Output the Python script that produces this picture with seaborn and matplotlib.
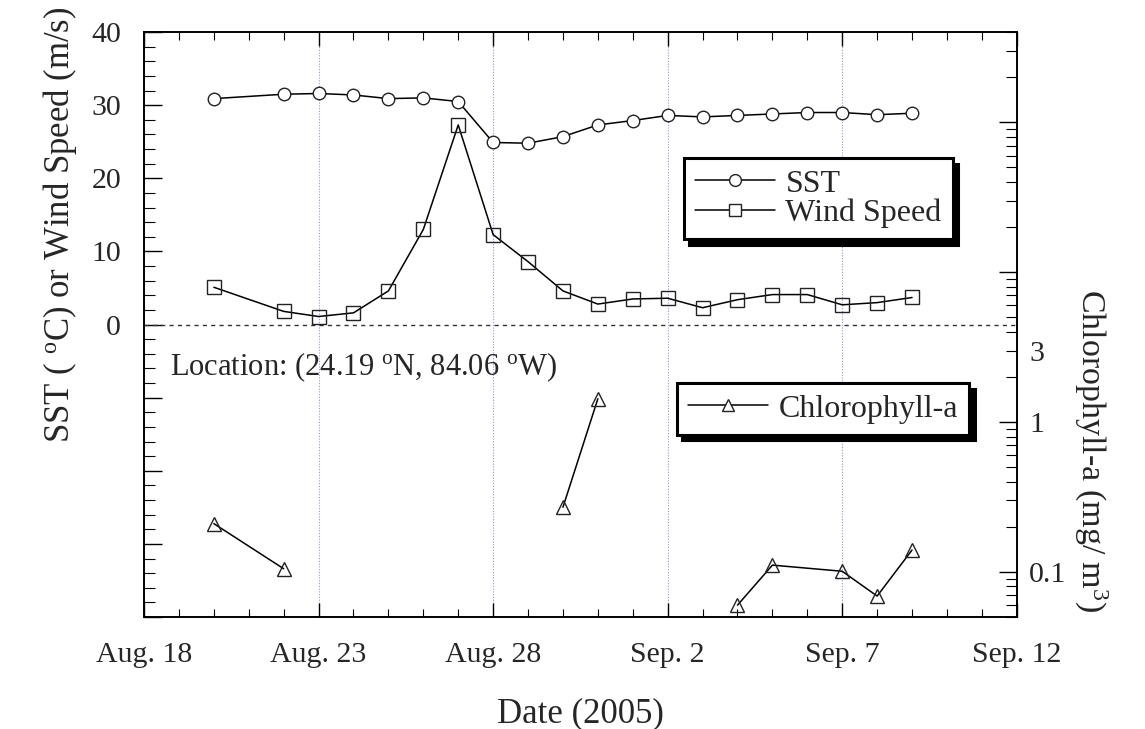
import matplotlib
matplotlib.use("Agg")
import pandas as pd
import seaborn as sns
import matplotlib.pyplot as plt
import matplotlib.dates as mdates
import matplotlib.ticker as mticker
from matplotlib.lines import Line2D

# values
met_days = ["2005-08-20", "2005-08-22", "2005-08-23", "2005-08-24", "2005-08-25",
            "2005-08-26", "2005-08-27", "2005-08-28", "2005-08-29", "2005-08-30",
            "2005-08-31", "2005-09-01", "2005-09-02", "2005-09-03", "2005-09-04",
            "2005-09-05", "2005-09-06", "2005-09-07", "2005-09-08", "2005-09-09"]
sst = [30.9, 31.5, 31.6, 31.4, 30.9, 31.0, 30.5, 24.9, 24.8, 25.7,
       27.3, 27.9, 28.6, 28.4, 28.6, 28.8, 29.0, 29.0, 28.7, 28.9]
wind = [5.1, 1.8, 1.1, 1.6, 4.6, 13.0, 27.3, 12.3, 8.6, 4.6,
        2.8, 3.5, 3.6, 2.3, 3.4, 4.1, 4.1, 2.7, 3.0, 3.7]

chl_days = ["2005-08-20", "2005-08-22", "2005-08-30", "2005-08-31", "2005-09-04",
            "2005-09-05", "2005-09-07", "2005-09-08", "2005-09-09"]
chl = [0.21, 0.105, 0.27, 1.43, 0.060, 0.111, 0.101, 0.069, 0.14]
chl_run = [0, 0, 1, 1, 2, 2, 2, 2, 2]  # gaps in the record split the line

tick_days = ["2005-08-18", "2005-08-23", "2005-08-28", "2005-09-02", "2005-09-07", "2005-09-12"]
location = r"Location: (24.19 $^{\rm o}$N, 84.06 $^{\rm o}$W)"

met = pd.DataFrame({"date": pd.to_datetime(met_days), "sst": sst, "wind": wind})
chl_df = pd.DataFrame({"date": pd.to_datetime(chl_days), "chl": chl, "run": chl_run})
ticks = pd.to_datetime(tick_days)

sns.set_theme(style="ticks")
plt.rcParams["font.family"] = ["Liberation Serif", "DejaVu Serif"]
plt.rcParams["mathtext.fontset"] = "custom"
plt.rcParams["mathtext.rm"] = "Liberation Serif"
plt.rcParams["mathtext.it"] = "Liberation Serif:italic"
plt.rcParams["axes.linewidth"] = 1.2

fig, ax = plt.subplots(figsize=(11.45, 7.29), dpi=100)
fig.subplots_adjust(left=0.1258, right=0.888, top=0.956, bottom=0.1536)

line_kw = dict(color="black", lw=1.1, markeredgecolor="#222222",
               markeredgewidth=1.0, legend=False)
sns.lineplot(data=met, x="date", y="sst", ax=ax, marker="o", markersize=9,
             markerfacecolor="white", **line_kw)
sns.lineplot(data=met, x="date", y="wind", ax=ax, marker="s", markersize=9.5,
             markerfacecolor="none", **line_kw)
ax.axhline(0, color="#333333", lw=1.0, ls=(0, (3, 3)), zorder=1)

ax2 = ax.twinx()
ax2.set_yscale("log")
sns.lineplot(data=chl_df, x="date", y="chl", units="run", estimator=None, ax=ax2,
             marker="^", markersize=10, markerfacecolor="none", **line_kw)

# axes ranges and ticks
ax.set_xlim(ticks[0], ticks[-1])
ax.set_ylim(-40, 40)
ax2.set_ylim(0.05, 400)

ax.xaxis.set_major_locator(mticker.FixedLocator(mdates.date2num(ticks)))
ax.xaxis.set_minor_locator(mdates.DayLocator())
ax.xaxis.set_major_formatter(mticker.FuncFormatter(
    lambda v, p: "{:%b}. {}".format(mdates.num2date(v), mdates.num2date(v).day)))
ax.yaxis.set_major_locator(mticker.MultipleLocator(10))
ax.yaxis.set_minor_locator(mticker.MultipleLocator(2))
ax.yaxis.set_major_formatter(mticker.FuncFormatter(lambda v, p: f"{v:.0f}" if v >= 0 else ""))

decades = [0.01, 0.1, 1, 10, 100]
ax2.yaxis.set_major_locator(mticker.FixedLocator(decades[1:]))
ax2.yaxis.set_minor_locator(mticker.FixedLocator([m * d for d in decades for m in range(2, 10)]))
ax2.yaxis.set_major_formatter(mticker.FuncFormatter(lambda v, p: {0.1: "0.1", 1: "1"}.get(round(v, 3), "")))
ax2.yaxis.set_minor_formatter(mticker.FuncFormatter(lambda v, p: "3" if abs(v - 3) < 1e-6 else ""))

ax.tick_params(axis="x", which="both", direction="in", top=True, bottom=True,
               labelsize=21.5, pad=18, color="black")
ax.tick_params(axis="x", which="major", length=10, width=1.0)
ax.tick_params(axis="x", which="minor", length=6, width=0.8)
ax.tick_params(axis="y", which="both", direction="in", left=True, right=False,
               labelsize=21.5, pad=16.5, color="black")
ax.tick_params(axis="y", which="major", length=13, width=1.0)
ax.tick_params(axis="y", which="minor", length=8, width=0.8)
ax2.tick_params(axis="y", which="both", direction="in", right=True, left=False,
                labelsize=21.5, pad=9, color="black")
ax2.tick_params(axis="y", which="major", length=13, width=1.0)
ax2.tick_params(axis="y", which="minor", length=8, width=0.8)

ax.grid(axis="x", which="major", color="#8a9ad8", lw=0.8, ls=(0, (1, 1.5)))
for a in (ax, ax2):
    for s in a.spines.values():
        s.set_color("black")
        s.set_linewidth(1.2)

# labels
ax.set_xlabel("Date (2005)", fontsize=25, labelpad=21)
ax.set_ylabel(r"SST ( $^{\rm o}$C) or Wind Speed (m/s)", fontsize=25)
ax.yaxis.set_label_coords(-0.075, 0.67)
ax2.set_ylabel(r"Chlorophyll-a (mg/ m$^3$)", fontsize=24.5, rotation=-90, va="bottom")
ax2.yaxis.set_label_coords(1.063, 0.285)
ax.text(0.03, 0.414, location, transform=ax.transAxes, fontsize=22, va="baseline")

# legends
leg_kw = dict(loc="upper left", frameon=True, fancybox=False, edgecolor="black",
              framealpha=1, fontsize=23, handlelength=2.5, handletextpad=0.33,
              borderpad=0.35, labelspacing=0.0, borderaxespad=0,
              shadow={"ox": 4, "oy": -4, "shade": 1.0, "alpha": 1})
h_kw = dict(color="black", lw=1.1, markersize=8.5, markeredgecolor="#222222",
            markeredgewidth=1.0, markerfacecolor="white")
h_sst = Line2D([], [], marker="o", **h_kw)
h_wind = Line2D([], [], marker="s", **h_kw)
h_chl = Line2D([], [], marker="^", **h_kw)
leg1 = ax.legend([h_sst, h_wind], ["SST", "Wind Speed"], bbox_to_anchor=(0.6186, 0.7846), **leg_kw)
leg1.get_frame().set_linewidth(2.2)
leg2 = ax2.legend([h_chl], ["Chlorophyll-a"], bbox_to_anchor=(0.6105, 0.40), **leg_kw)
leg2.get_frame().set_linewidth(2.2)

fig.savefig("out.png", dpi=100)
